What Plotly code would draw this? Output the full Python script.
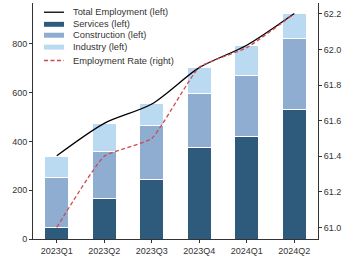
import plotly.graph_objects as go

quarters = ["2023Q1", "2023Q2", "2023Q3", "2023Q4", "2024Q1", "2024Q2"]
services = [47, 165, 243, 376, 419, 531]
construction = [207, 192, 223, 220, 250, 291]
industry = [85, 117, 90, 106, 123, 100]
total_employment = [341, 474, 553, 702, 794, 924]
employment_rate = [61.0, 61.4, 61.5, 61.9, 62.01, 62.2]

left_ticks = [0, 200, 400, 600, 800]
right_ticks = [61.0, 61.2, 61.4, 61.6, 61.8, 62.0, 62.2]

legend_labels = ["Total Employment (left)", "Services (left)", "Construction (left)",
                 "Industry (left)", "Employment Rate (right)"]

c_serv = "#2e5a7c"
c_cons = "#8eadd0"
c_ind = "#badaf2"
c_rate = "#cc4a50"
c_text = "#333333"

W, H = 350, 259
ML, MR, MT, MB = 33, 32, 3, 18
PW, PH = W - ML - MR, H - MT - MB

fig = go.Figure()
fig.add_trace(go.Bar(x=quarters, y=services, name=legend_labels[1],
                     marker=dict(color=c_serv, line=dict(color="white", width=1)), width=0.5))
fig.add_trace(go.Bar(x=quarters, y=construction, name=legend_labels[2],
                     marker=dict(color=c_cons, line=dict(color="white", width=1)), width=0.5))
fig.add_trace(go.Bar(x=quarters, y=industry, name=legend_labels[3],
                     marker=dict(color=c_ind, line=dict(color="white", width=1)), width=0.5))
fig.add_trace(go.Scatter(x=quarters, y=total_employment, mode="lines", name=legend_labels[0],
                         line=dict(color="black", width=1.3, shape="spline", smoothing=0.8)))
fig.add_trace(go.Scatter(x=quarters, y=employment_rate, mode="lines", name=legend_labels[4],
                         yaxis="y2",
                         line=dict(color=c_rate, width=1.3, dash="4px,2.5px",
                                   shape="spline", smoothing=0.4)))

# manual legend (compact spacing as in the reference)
def px_x(px):
    return (px - ML) / PW

def px_y(py):
    return (H - MB - py) / PH

shapes = []
annotations = []
rows_y = [12.3, 24.5, 35.5, 47.5, 61.0]
x0, x1, xt = 44, 64, 71
kinds = [("line", "black", "solid"), ("rect", c_serv, None), ("rect", c_cons, None),
         ("rect", c_ind, None), ("line", c_rate, "4px,2.5px")]
for (kind, col, dash), yy, lab in zip(kinds, rows_y, legend_labels):
    if kind == "line":
        shapes.append(dict(type="line", xref="paper", yref="paper",
                           x0=px_x(x0), x1=px_x(x1), y0=px_y(yy), y1=px_y(yy),
                           line=dict(color=col, width=1.3, dash=dash)))
    else:
        shapes.append(dict(type="rect", xref="paper", yref="paper",
                           x0=px_x(x0), x1=px_x(x1), y0=px_y(yy + 2.5), y1=px_y(yy - 2.5),
                           fillcolor=col, line=dict(width=0)))
    annotations.append(dict(text=lab, xref="paper", yref="paper", x=px_x(xt), y=px_y(yy),
                            xanchor="left", yanchor="middle", showarrow=False,
                            font=dict(size=9.3, color=c_text)))

axis_common = dict(showline=True, linecolor=c_text, linewidth=1, ticks="outside",
                   ticklen=3, tickcolor=c_text, showgrid=False, zeroline=False,
                   tickfont=dict(size=9, color=c_text))

fig.update_layout(
    width=W, height=H,
    margin=dict(l=ML, r=MR, t=MT, b=MB),
    plot_bgcolor="white", paper_bgcolor="white",
    font=dict(family="Liberation Sans, Arial, sans-serif", size=9, color=c_text),
    barmode="stack",
    showlegend=False,
    xaxis=dict(range=[-0.5, 5.5], **axis_common),
    yaxis=dict(range=[0, 967], tickvals=left_ticks, **axis_common),
    yaxis2=dict(range=[60.935, 62.261], overlaying="y", side="right",
                tickvals=right_ticks, tickformat=".1f", **axis_common),
    shapes=shapes,
    annotations=annotations,
)

fig.write_html("out.html")
